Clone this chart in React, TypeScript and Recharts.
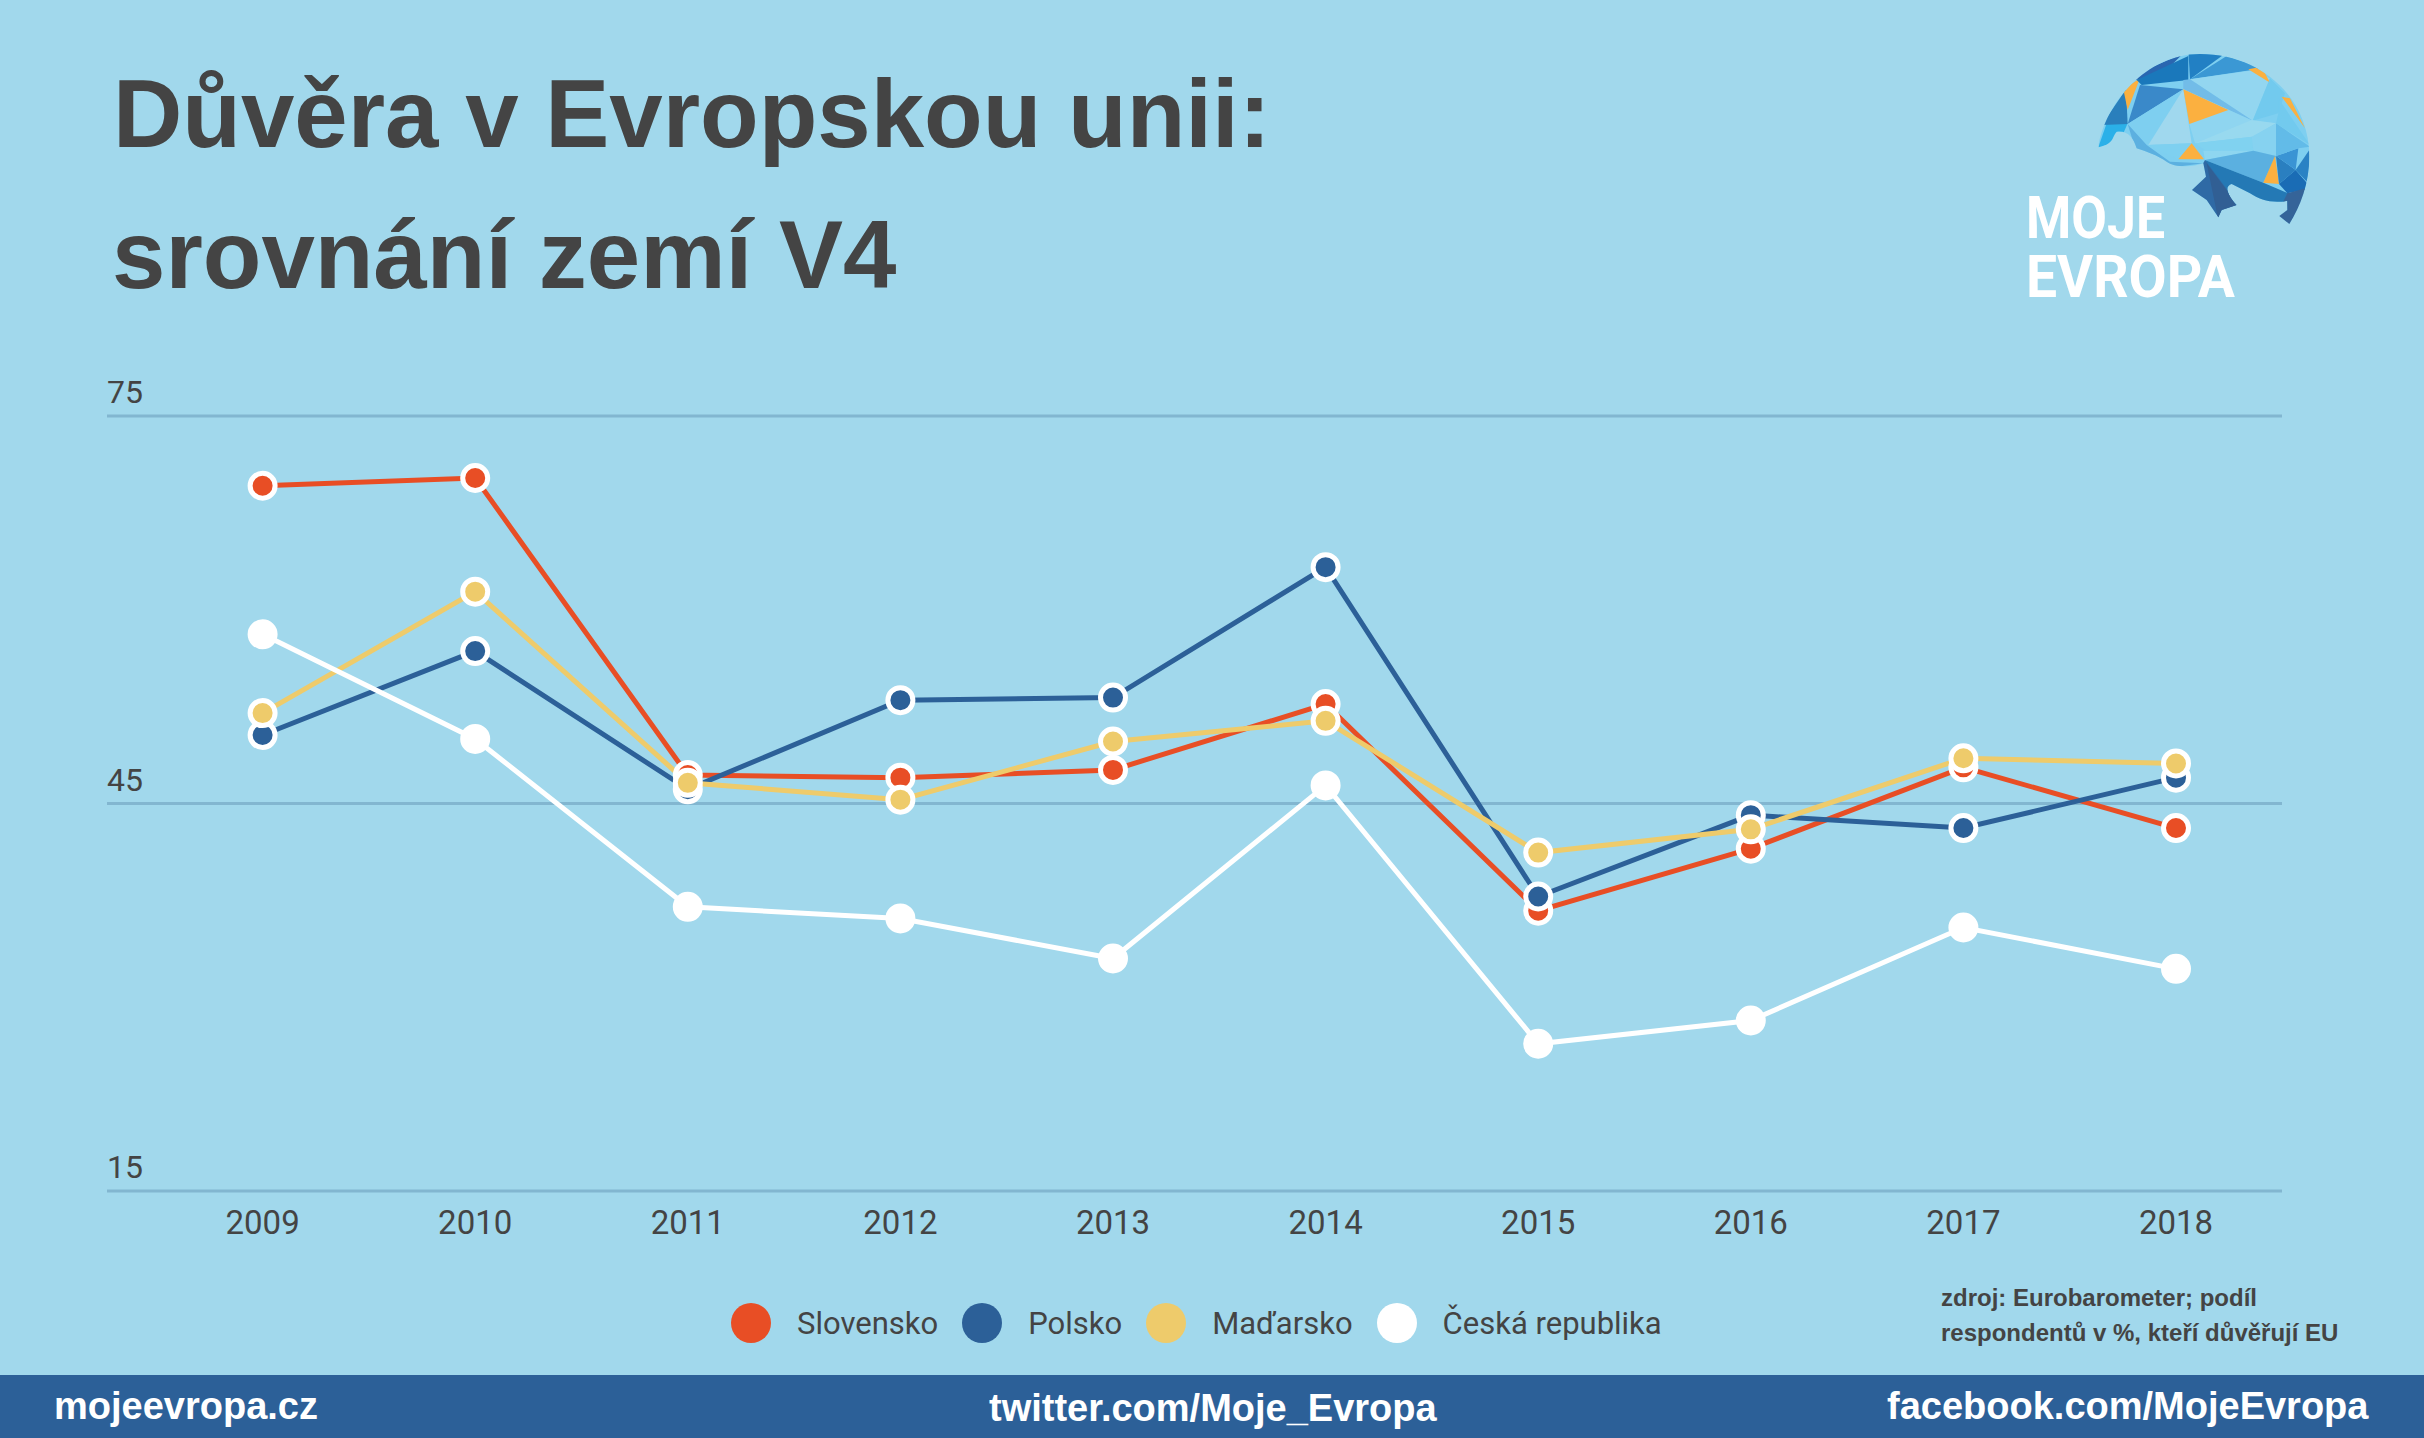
import React from "react";
import { LineChart, Line, XAxis, YAxis, CartesianGrid, Legend } from "recharts";

const years = ["2009", "2010", "2011", "2012", "2013", "2014", "2015", "2016", "2017", "2018"];
const slovensko = [69.6, 70.2, 47.2, 47.0, 47.6, 52.7, 36.7, 41.5, 47.8, 43.1];
const polsko = [50.3, 56.8, 46.1, 53.0, 53.2, 63.3, 37.8, 44.1, 43.1, 47.0];
const madarsko = [52.0, 61.4, 46.6, 45.3, 49.8, 51.4, 41.2, 43.0, 48.5, 48.1];
const cesko = [58.1, 50.0, 37.0, 36.1, 33.0, 46.4, 26.4, 28.2, 35.4, 32.2];
const yTicks = [15, 45, 75];

const data = years.map((year, i) => ({
  year,
  Slovensko: slovensko[i],
  Polsko: polsko[i],
  "Maďarsko": madarsko[i],
  "Česká republika": cesko[i],
}));

const INK = "#444444";
const BG = "#a1d8ec";
const NAVY = "#2c6098";
const series = [
  { key: "Slovensko", color: "#e84e25" },
  { key: "Polsko", color: NAVY },
  { key: "Maďarsko", color: "#eecb6b" },
  { key: "Česká republika", color: "#ffffff" },
];
const seriesOrder = series.map((s) => s.key);

const ORANGE = "#fbb040";
const logoPolys: [string, string][] = [
  ["445,352 470,280 533,280 520,310 490,340", "#2bb0e8"],
  ["528,178 533,282 455,285", "#2a7fbc"],
  ["520,178 570,145 533,240", ORANGE],
  ["570,165 700,178 533,282", "#3a89c9"],
  ["540,140 700,70 640,130 560,150", "#2a66b0"],
  ["560,150 715,78 715,150 575,165", "#1a78bb"],
  ["715,60 840,60 720,148", "#2280c4"],
  ["830,78 940,115 720,148", "#3b98d4"],
  ["720,148 900,122 960,145 908,272", "#93d6f0"],
  ["895,118 935,110 960,158", ORANGE],
  ["960,145 1005,190 985,250 908,272", "#72caee"],
  ["533,282 700,178 595,345", "#7ecff0"],
  ["700,178 595,345 725,340", "#a0d8ee"],
  ["700,150 720,148 908,272 700,178", "#72bce8"],
  ["700,178 908,272 978,280 735,340 718,282", "#8fd5f0"],
  ["735,340 910,320 978,280 905,270 760,330", "#98d9ef"],
  ["735,340 905,320 910,362 765,360", "#80d2f0"],
  ["905,320 978,280 978,378 910,362", "#86d2f0"],
  ["590,345 725,340 685,388", "#7ed0f0"],
  ["700,178 835,240 718,282", ORANGE],
  ["760,362 910,362 765,390", "#8ed6f0"],
  ["533,282 590,345 660,395 760,400 680,410 560,370", "#5cb0e0"],
  ["685,388 725,340 762,388", ORANGE],
  ["765,390 910,362 978,378 940,458", "#5bb0e0"],
  ["765,390 940,458 1015,490 1012,540 900,530 800,480", "#2479b5"],
  ["975,378 940,458 987,462", ORANGE],
  ["978,378 1037,420 987,462", "#2a7fc0"],
  ["978,378 1045,355 1037,420", "#3a94d4"],
  ["1037,420 1085,350 1085,470", "#2a82c4"],
  ["987,462 1037,420 1085,475 1012,490", "#1a6cb5"],
  ["1012,490 1085,470 1018,590 980,555", "#356499"],
  ["765,390 715,480 805,570 870,530", "#2f6aa5"],
  ["770,400 830,480 860,530 805,570", "#315f94"],
  ["978,280 1080,350 1045,355 978,378", "#62bbe8"],
  ["985,205 1080,345 978,280 985,250", "#72caee"],
  ["995,200 1020,205 1065,295", ORANGE],
];
const logoOutline =
  "M445,352 C465,220 590,72 750,72 C930,72 1078,200 1078,380 C1078,460 1050,530 1018,582 L988,558 L1012,540 L1012,512 C970,522 930,510 900,490 L845,462 C825,468 828,490 860,525 L815,540 L805,562 L770,510 L726,480 L768,440 L760,400 C720,415 670,410 650,395 C620,375 590,365 560,355 C550,320 530,300 500,305 C485,320 495,340 445,352 Z";

const YTick = ({ y, payload }: any) => (
  <text x={107} y={y - 13} fontFamily="Roboto" fontSize={32} fill={INK}>
    {payload.value}
  </text>
);

const LegendRow = ({ payload }: any) => (
  <div style={{ position: "absolute", left: 731, top: 0, display: "flex", alignItems: "center", height: 40, fontFamily: "Roboto", fontSize: 31, color: INK, whiteSpace: "nowrap" }}>
    {(payload || []).map((p: any) => (
      <div key={p.value} style={{ display: "flex", alignItems: "center", marginRight: 24 }}>
        <span style={{ width: 40, height: 40, borderRadius: 20, background: p.color, marginRight: 26, display: "inline-block" }} />
        <span>{p.value}</span>
      </div>
    ))}
  </div>
);

export default function App() {
  return (
    <div style={{ position: "absolute", left: 0, top: 0, width: 2424, height: 1438, background: BG, overflow: "hidden" }}>
      <div style={{ position: "absolute", left: 0, top: 1375, width: 2424, height: 63, background: NAVY }} />
      <LineChart
        width={2424}
        height={1438}
        data={data}
        margin={{ top: 416, left: 106, right: 142, bottom: 147 }}
        style={{ position: "absolute", left: 0, top: 0 }}
      >
        <CartesianGrid vertical={false} stroke="#82b6d0" strokeWidth={3} />
        <XAxis
          dataKey="year"
          scale="point"
          padding={{ left: 155.6, right: 106 }}
          axisLine={false}
          tickLine={false}
          height={60}
          tickMargin={14}
          tick={{ fontFamily: "Roboto", fontSize: 33, fill: INK }}
          interval={0}
        />
        <YAxis domain={[15, 75]} ticks={yTicks} width={1} axisLine={false} tickLine={false} tick={<YTick />} interval={0} />
        <Legend
          content={<LegendRow />}
          itemSorter={(p: any) => seriesOrder.indexOf(p.value)}
          wrapperStyle={{ position: "absolute", left: 0, top: 1303, width: 2424, height: 40 }}
        />
        {series.map((s) => (
          <Line
            key={s.key}
            type="linear"
            dataKey={s.key}
            stroke={s.color}
            strokeWidth={5}
            dot={{ r: 12.5, fill: s.color, stroke: "#ffffff", strokeWidth: 5, fillOpacity: 1 }}
            activeDot={false}
            isAnimationActive={false}
          />
        ))}
      </LineChart>
      <svg width={2424} height={1438} style={{ position: "absolute", left: 0, top: 0, pointerEvents: "none" }}>
        <g fontFamily="'Liberation Sans'" fontWeight={700} fill={INK}>
          <text x={113} y={147} fontSize={96}>Důvěra v Evropskou unii:</text>
          <text x={112} y={288} fontSize={96}>srovnání zemí V4</text>
          <text x={1941} y={1306} fontSize={24}>zdroj: Eurobarometer; podíl</text>
          <text x={1941} y={1341} fontSize={24}>respondentů v %, kteří důvěřují EU</text>
        </g>
        <g fontFamily="'Liberation Sans'" fontWeight={700} fill="#ffffff" fontSize={38}>
          <text x={54} y={1419}>mojeevropa.cz</text>
          <text x={989} y={1421}>twitter.com/Moje_Evropa</text>
          <text x={1887} y={1419}>facebook.com/MojeEvropa</text>
        </g>
        <g transform="translate(1950,30) scale(0.33333)">
          <clipPath id="logoClip"><path d={logoOutline} /></clipPath>
          <g clipPath="url(#logoClip)">
            <rect x={400} y={40} width={720} height={560} fill="#7ecff0" />
            {logoPolys.map(([pts, fill], i) => (
              <polygon key={i} points={pts} fill={fill} />
            ))}
          </g>
        </g>
        <g fontFamily="Roboto" fontWeight={700} fill="#ffffff" fontSize={59}>
          <text x={2026} y={238} textLength={139} lengthAdjust="spacingAndGlyphs">MOJE</text>
          <text x={2026} y={297} textLength={209} lengthAdjust="spacingAndGlyphs">EVROPA</text>
        </g>
      </svg>
    </div>
  );
}
